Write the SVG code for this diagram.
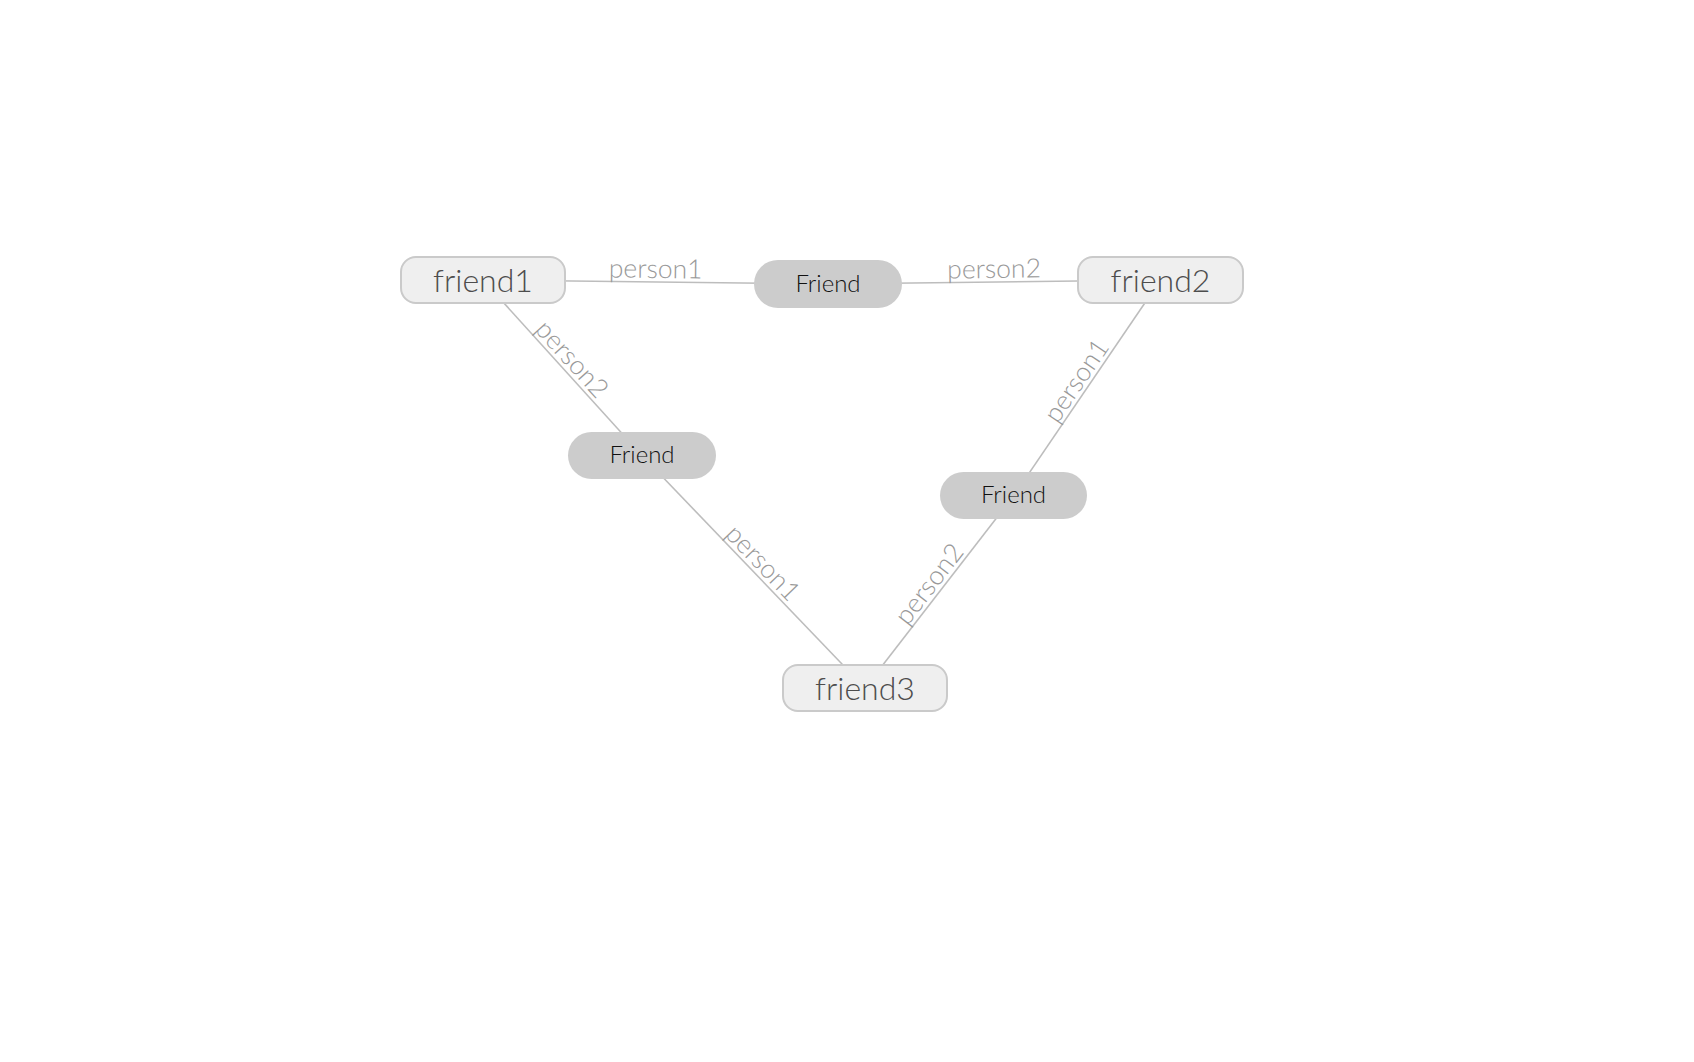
<svg xmlns="http://www.w3.org/2000/svg" xmlns:xlink="http://www.w3.org/1999/xlink" width="1694" height="1062" viewBox="0 0 1694 1062">
  <style>
    .link { stroke: #bdbdbd; stroke-width: 1.6; fill: none; }
    .link-label { font-family: Lato, "Liberation Sans", sans-serif; font-weight: 300; font-size: 26.5px; fill: #999999; }
    .entity rect { fill: #efefef; stroke: #cacaca; stroke-width: 2; }
    .entity text { font-family: Lato, "Liberation Sans", sans-serif; font-weight: 300; font-size: 32px; fill: #4d4d4d; text-anchor: middle; }
    .relation rect { fill: #cccccc; stroke: none; }
    .relation text { font-family: Lato, "Liberation Sans", sans-serif; font-weight: 300; font-size: 24px; fill: #111111; text-anchor: middle; }
  </style>
  <defs>
    <path id="p-f1-top" d="M483,280 L828,284"/>
    <path id="p-top-f2" d="M828,284 L1160.5,280"/>
    <path id="p-f1-left" d="M483,280 L642,455.5"/>
    <path id="p-left-f3" d="M642,455.5 L865,688"/>
    <path id="p-right-f2" d="M1013.7,495.8 L1160.5,280"/>
    <path id="p-f3-right" d="M865,688 L1013.7,495.8"/>
  </defs>
  <rect width="1694" height="1062" fill="#ffffff"/>

  <g id="connectors">
    <use xlink:href="#p-f1-top" class="link"/>
    <use xlink:href="#p-top-f2" class="link"/>
    <use xlink:href="#p-f1-left" class="link"/>
    <use xlink:href="#p-left-f3" class="link"/>
    <use xlink:href="#p-right-f2" class="link"/>
    <use xlink:href="#p-f3-right" class="link"/>
    <text class="link-label" dy="-4"><textPath xlink:href="#p-f1-top" startOffset="50%" text-anchor="middle">person1</textPath></text>
    <text class="link-label" dy="-4"><textPath xlink:href="#p-top-f2" startOffset="50%" text-anchor="middle">person2</textPath></text>
    <text class="link-label" dy="-4"><textPath xlink:href="#p-f1-left" startOffset="50%" text-anchor="middle">person2</textPath></text>
    <text class="link-label" dy="-4"><textPath xlink:href="#p-left-f3" startOffset="50%" text-anchor="middle">person1</textPath></text>
    <text class="link-label" dy="-4"><textPath xlink:href="#p-right-f2" startOffset="50%" text-anchor="middle">person1</textPath></text>
    <text class="link-label" dy="-4"><textPath xlink:href="#p-f3-right" startOffset="50%" text-anchor="middle">person2</textPath></text>
  </g>

  <g id="friend1" class="entity">
    <rect x="401" y="257" width="164" height="46" rx="15"/>
    <text x="483" y="292">friend1</text>
  </g>
  <g id="friend2" class="entity">
    <rect x="1078" y="257" width="165" height="46" rx="15"/>
    <text x="1160.5" y="292">friend2</text>
  </g>
  <g id="friend3" class="entity">
    <rect x="783" y="665" width="164" height="46" rx="15"/>
    <text x="865" y="700">friend3</text>
  </g>

  <g id="friend-top" class="relation">
    <rect x="754" y="260" width="148" height="48" rx="24"/>
    <text x="828" y="292">Friend</text>
  </g>
  <g id="friend-left" class="relation">
    <rect x="568" y="432" width="148" height="47" rx="23.5"/>
    <text x="642" y="463">Friend</text>
  </g>
  <g id="friend-right" class="relation">
    <rect x="940" y="472" width="147" height="47" rx="23.5"/>
    <text x="1013.5" y="503">Friend</text>
  </g>
</svg>
